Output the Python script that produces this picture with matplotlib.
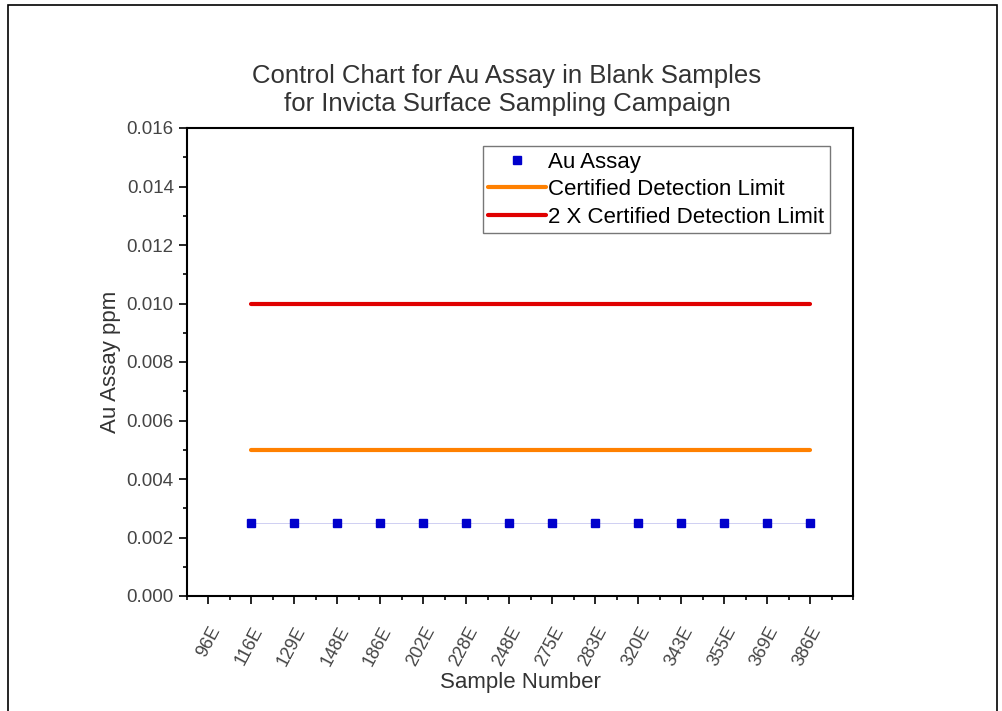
import matplotlib
matplotlib.use("Agg")
import matplotlib.pyplot as plt
from matplotlib.patches import Rectangle
from matplotlib.ticker import MultipleLocator

plt.rcParams['font.family'] = ['Liberation Sans', 'DejaVu Sans']

# sample labels along the x axis
samples = ["96E", "116E", "129E", "148E", "186E", "202E", "228E", "248E",
           "275E", "283E", "320E", "343E", "355E", "369E", "386E"]
# assayed samples (the first label has no value)
assay_samples = samples[1:]
au_assay = [0.0025] * len(assay_samples)
detection_limit = 0.005
double_limit = 0.010

fig = plt.figure(figsize=(10.03, 7.11), dpi=100)
ax = fig.add_axes([187 / 1003, 1 - 596 / 711, (853 - 187) / 1003, (596 - 128) / 711])

# border round the whole picture
fig.patches.append(Rectangle((8 / 1003, -0.01), 989 / 1003, 1 - 5 / 711 + 0.01,
                             transform=fig.transFigure, fill=False,
                             edgecolor="black", linewidth=1.2))

xs = [samples.index(s) for s in assay_samples]
ax.plot(xs, au_assay, color="#c8c8f0", linewidth=0.6, marker="s", markersize=6,
        markerfacecolor="#0000cc", markeredgecolor="#0000cc", zorder=3)
ax.plot([], [], "s", color="#0000cc", markersize=6, label="Au Assay")
ax.plot([xs[0], xs[-1]], [detection_limit] * 2, color="#ff8000", linewidth=3,
        solid_capstyle="round", label="Certified Detection Limit")
ax.plot([xs[0], xs[-1]], [double_limit] * 2, color="#e00000", linewidth=3,
        solid_capstyle="round", label="2 X Certified Detection Limit")

ax.set_xlim(-0.5, 15)
ax.set_ylim(0, 0.016)
ax.set_xticks(range(len(samples)))
ax.set_xticklabels(samples, rotation=62, ha="right", rotation_mode="anchor",
                   fontsize=13, color="#444444")
ax.xaxis.set_minor_locator(MultipleLocator(0.5))
ax.yaxis.set_major_locator(MultipleLocator(0.002))
ax.yaxis.set_minor_locator(MultipleLocator(0.001))
ax.yaxis.set_major_formatter(plt.FormatStrFormatter("%.3f"))
ax.tick_params(axis="y", labelsize=13.5, labelcolor="#444444")
ax.tick_params(axis="x", which="major", pad=14)
ax.tick_params(which="major", direction="out", length=6, width=1.2)
ax.tick_params(which="minor", direction="out", length=3, width=1.2)
for sp in ax.spines.values():
    sp.set_linewidth(1.5)

ax.set_xlabel("Sample Number", fontsize=16, color="#333333", labelpad=2)
ax.set_ylabel("Au Assay ppm", fontsize=16, color="#333333", labelpad=4)
fig.text(507 / 1003, 1 - 111 / 711,
         "Control Chart for Au Assay in Blank Samples\nfor Invicta Surface Sampling Campaign",
         fontsize=18.5, color="#333333", ha="center", va="baseline",
         multialignment="center", linespacing=1.2)

leg = ax.legend(loc="upper right", bbox_to_anchor=(830 / 666 - 187 / 666, 1 - 18 / 468),
                fontsize=16, frameon=True, fancybox=False, edgecolor="#555555",
                handlelength=2.6, handletextpad=0.1, borderpad=0.25,
                labelspacing=0.3, borderaxespad=0)
leg.get_frame().set_linewidth(1.0)

fig.savefig("out.png", dpi=100)
